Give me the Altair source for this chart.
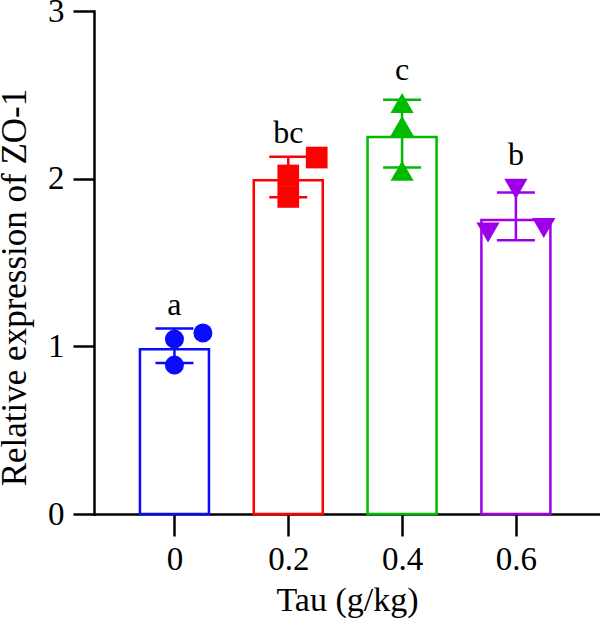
import altair as alt
import pandas as pd

# ---- data ----
tau = [0.0, 0.2, 0.4, 0.6]
tau_labels = ["0", "0.2", "0.4", "0.6"]
bar_mean = [0.983, 1.99, 2.248, 1.754]
err_upper = [1.106, 2.131, 2.471, 1.917]
err_lower = [0.900, 1.889, 2.066, 1.633]
letters = ["a", "bc", "c", "b"]
letter_y = [1.188, 2.215, 2.589, 2.082]
y_ticks = [0, 1, 2, 3]

pts_0 = [1.043, 0.888, 1.079]
pts_02 = [2.019, 1.891, 2.126]
pts_04 = [2.451, 2.315, 2.047]
pts_06 = [1.939, 1.679, 1.706]
jitter_0 = [0.0, 0.0, 0.05]
jitter_02 = [0.0, 0.0, 0.05]
jitter_04 = [0.0, 0.0, 0.0]
jitter_06 = [0.0, -0.049, 0.049]

colors = ["#0a0aff", "#ff0000", "#00bb00", "#9d00e8"]
shapes = ["circle", "square", "triangle-up", "triangle-down"]
sizes = [361, 470, 540, 540]

FONT = "Liberation Serif"

summary = pd.DataFrame({
    "tau": tau, "label": tau_labels, "mean": bar_mean,
    "upper": err_upper, "lower": err_lower,
    "letter": letters, "letter_y": letter_y,
})

pts_all = [pts_0, pts_02, pts_04, pts_06]
jit_all = [jitter_0, jitter_02, jitter_04, jitter_06]
rows = []
for t, lab, vals, jits in zip(tau, tau_labels, pts_all, jit_all):
    for v, j in zip(vals, jits):
        rows.append({"label": lab, "x": t + j, "value": v})
points = pd.DataFrame(rows)

xscale = alt.Scale(domain=[-0.1326, 0.739], nice=False, zero=False)
yscale = alt.Scale(domain=[0, 3], nice=False)
cscale = alt.Scale(domain=tau_labels, range=colors)

x_axis = alt.Axis(
    values=tau, labelExpr="datum.value == 0 ? '0' : format(datum.value, '.1f')",
    title="Tau (g/kg)", tickSize=22, labelPadding=7, titlePadding=7,
    labelFontSize=33, titleFontSize=34,
)
y_axis = alt.Axis(values=y_ticks, format="d", title="Relative expression of ZO-1",
                  tickSize=21, labelPadding=9, titlePadding=15, titleY=276,
                  labelFontSize=33, titleFontSize=35)

base = alt.Chart(summary)

bars = base.mark_bar(size=69, fill="white", strokeWidth=2.5).encode(
    x=alt.X("tau:Q", scale=xscale, axis=x_axis),
    y=alt.Y("mean:Q", scale=yscale, axis=y_axis),
    stroke=alt.Color("label:N", scale=cscale, legend=None),
)

err = base.mark_rule(strokeWidth=2.5).encode(
    x="tau:Q", y="lower:Q", y2="upper:Q",
    color=alt.Color("label:N", scale=cscale, legend=None),
)
cap_hi = base.mark_tick(orient="horizontal", size=38, thickness=2.5, opacity=1).encode(
    x="tau:Q", y="upper:Q",
    color=alt.Color("label:N", scale=cscale, legend=None),
)
cap_lo = base.mark_tick(orient="horizontal", size=38, thickness=2.5, opacity=1).encode(
    x="tau:Q", y="lower:Q",
    color=alt.Color("label:N", scale=cscale, legend=None),
)

point_layers = []
for lab, shp, sz, col in zip(tau_labels, shapes, sizes, colors):
    point_layers.append(
        alt.Chart(points).transform_filter(alt.datum.label == lab)
        .mark_point(shape=shp, size=sz, filled=True, opacity=1, color=col, strokeWidth=0)
        .encode(x="x:Q", y="value:Q")
    )

text = base.mark_text(baseline="alphabetic", align="center", font=FONT,
                      fontSize=32, color="black").encode(
    x="tau:Q", y="letter_y:Q", text="letter:N",
)

chart = alt.layer(bars, err, cap_hi, cap_lo, *point_layers, text).properties(
    width=506, height=503,
    autosize=alt.AutoSizeParams(type="none"),
    padding={"left": 94, "top": 11, "right": 0, "bottom": 108},
).configure_view(stroke=None).configure_axis(
    grid=False, domainColor="black", domainWidth=2.5, tickColor="black",
    tickWidth=2.5, labelFont=FONT, labelColor="black",
    titleFont=FONT, titleFontWeight="normal", titleColor="black",
    domainCap="square",
)

chart.save("out.html", embed_options={"renderer": "svg", "actions": False})
